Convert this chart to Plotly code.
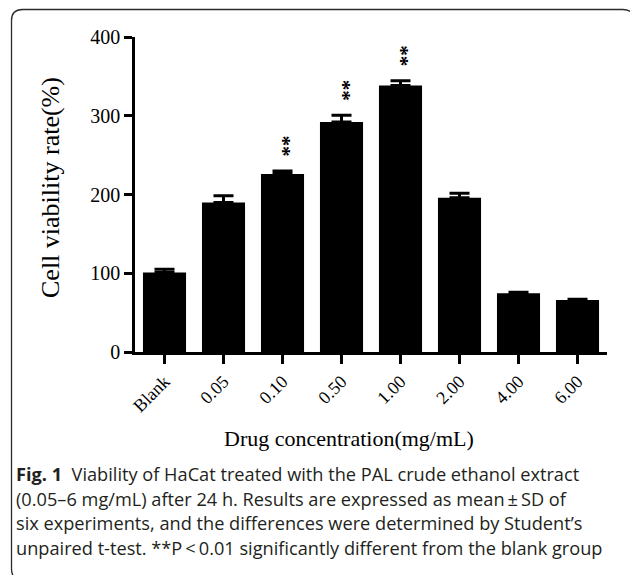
import plotly.graph_objects as go

# ---- data ----
categories = ["Blank", "0.05", "0.10", "0.50", "1.00", "2.00", "4.00", "6.00"]
means = [101, 190, 226, 292, 338.5, 196, 74.5, 66]
sds = [4, 8.5, 4, 8.5, 6, 5.5, 1.5, 1]
significant = [False, False, True, True, True, False, False, False]
y_ticks = [0, 100, 200, 300, 400]
y_title = "Cell viability rate(%)"
x_title = "Drug concentration(mg/mL)"
caption_lines = [
    "<b>Fig. 1</b>\u00a0\u00a0Viability of HaCat treated with the PAL crude ethanol extract",
    "(0.05\u20136 mg/mL) after 24 h. Results are expressed as mean\u2009\u00b1\u2009SD of",
    "six experiments, and the differences were determined by Student\u2019s",
    "unpaired t-test. **P\u2009<\u20090.01 significantly different from the blank group",
]

W, H = 630, 575
L, R, T, B = 135, 23, 37, 223
PW, PH = W - L - R, H - T - B


def px_x(px):
    return (px - L) / PW


def px_y(py):
    return (H - B - py) / PH


serif = "Liberation Serif, Times New Roman, serif"
sans = "Open Sans, Noto Sans, sans-serif"

fig = go.Figure()
fig.add_trace(go.Bar(
    x=categories, y=means, width=0.73,
    marker=dict(color="black", line=dict(width=0)),
    error_y=dict(type="data", array=sds, arrayminus=[0] * len(sds), symmetric=False,
                 color="black", thickness=3, width=10),
    showlegend=False,
))

annotations = []
for i, (m, s, sig) in enumerate(zip(means, sds, significant)):
    if sig:
        annotations.append(dict(
            x=i, y=m + s, xref="x", yref="y", text="<b>**</b>", showarrow=False,
            textangle=90, xanchor="center", yanchor="middle", yshift=25, xshift=1,
            font=dict(family=serif, size=21, color="black"),
        ))

annotations.append(dict(
    x=px_x(50), y=px_y(188), xref="paper", yref="paper", text=y_title,
    showarrow=False, textangle=-90, xanchor="center", yanchor="middle",
    font=dict(family=serif, size=26, color="black"),
))
annotations.append(dict(
    x=px_x(349), y=px_y(439), xref="paper", yref="paper", text=x_title,
    showarrow=False, xanchor="center", yanchor="middle",
    font=dict(family=serif, size=22, color="black"),
))

baselines = [480, 504.5, 529, 553.5]
for line, bl in zip(caption_lines, baselines):
    annotations.append(dict(
        x=px_x(13.5), y=px_y(bl - 6), xref="paper", yref="paper", text=line,
        showarrow=False, xanchor="left", yanchor="middle", align="left",
        font=dict(family=sans, size=18.2, color="#231f20"),
    ))

# rounded frame
x0, x1, y0, y1, r = px_x(11.5), px_x(634), px_y(9.5), px_y(580), 11
rx, ry = r / PW, r / PH
path = (f"M {x0},{y0 - ry} Q {x0},{y0} {x0 + rx},{y0} L {x1 - rx},{y0} "
        f"Q {x1},{y0} {x1},{y0 - ry} L {x1},{y1 + ry} Q {x1},{y1} {x1 - rx},{y1} "
        f"L {x0 + rx},{y1} Q {x0},{y1} {x0},{y1 + ry} Z")

fig.update_layout(
    width=W, height=H,
    margin=dict(l=L, r=R, t=T, b=B, autoexpand=False),
    paper_bgcolor="white", plot_bgcolor="white",
    annotations=annotations,
    shapes=[dict(type="path", path=path, xref="paper", yref="paper",
                 line=dict(color="#2b2b2b", width=1.3), layer="above")],
    xaxis=dict(type="category", range=[-0.5, 7.5], showline=True, linecolor="black",
               linewidth=2.7, ticks="outside", ticklen=9, tickwidth=2.5, tickcolor="black",
               tickangle=-45, showgrid=False, zeroline=False,
               tickfont=dict(family=serif, size=18, color="black")),
    yaxis=dict(range=[0, 400], tickvals=y_ticks, showline=True, linecolor="black",
               linewidth=2.7, ticks="outside", ticklen=8, tickwidth=2.5, tickcolor="black",
               showgrid=False, zeroline=False,
               tickfont=dict(family=serif, size=20, color="black")),
)

fig.write_html("out.html", config={"displayModeBar": False},
               post_script="document.body.style.margin='0';document.body.style.overflow='hidden';")
